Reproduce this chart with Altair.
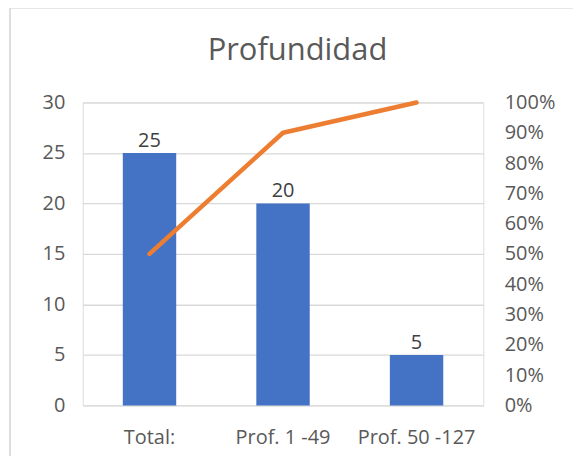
import altair as alt
import pandas as pd

title_text = "Profundidad"
categories = ["Total:", "Prof. 1 -49", "Prof. 50 -127"]
counts = [25, 20, 5]
cumulative_pct = [0.5, 0.9, 1.0]

df = pd.DataFrame({"cat": categories, "count": counts, "pct": cumulative_pct})
tdf = pd.DataFrame({"t": [title_text]})

FONT = "Open Sans"
GRAY = "#595959"
FS = 20

x_enc = alt.X(
    "cat:N",
    sort=categories,
    title=None,
    scale=alt.Scale(paddingInner=0.6, paddingOuter=0.3),
    axis=alt.Axis(labelAngle=0, ticks=False, domain=False, labelFontSize=FS,
                  labelColor=GRAY, labelFont=FONT, labelPadding=22, grid=False),
)

bars = alt.Chart(df).mark_bar(color="#4472C4").encode(
    x=x_enc,
    y=alt.Y("count:Q", title=None,
            scale=alt.Scale(domain=[0, 30]),
            axis=alt.Axis(values=[0, 5, 10, 15, 20, 25, 30], ticks=False, domain=False,
                          labelFontSize=FS, labelColor=GRAY, labelFont=FONT,
                          labelPadding=18, grid=True, gridColor="#D9D9D9", gridWidth=1.3)),
)

labels = alt.Chart(df).mark_text(baseline="alphabetic", dy=-6, fontSize=FS, font=FONT,
                                 color="#404040").encode(
    x=alt.X("cat:N", sort=categories),
    y=alt.Y("count:Q"),
    text=alt.Text("count:Q"),
)

line = alt.Chart(df).mark_line(color="#ED7D31", strokeWidth=4.5, strokeCap="round",
                               strokeJoin="round").encode(
    x=alt.X("cat:N", sort=categories, bandPosition=0.5),
    y=alt.Y("pct:Q", title=None,
            scale=alt.Scale(domain=[0, 1]),
            axis=alt.Axis(orient="right", format="%", values=[i / 10 for i in range(11)],
                          ticks=False, domain=False, grid=False, labelFontSize=FS,
                          labelColor=GRAY, labelFont=FONT, labelPadding=21)),
)

border = alt.Chart(df).mark_rule(color="#D9D9D9", strokeWidth=1).encode(
    x=alt.value(-73), x2=alt.value(500), y=alt.value(-95)
) + alt.Chart(df).mark_rule(color="#D9D9D9", strokeWidth=1).encode(
    x=alt.value(-73), y=alt.value(-95), y2=alt.value(400)
)

title = alt.Chart(tdf).mark_text(fontSize=31, font=FONT, color=GRAY, align="center",
                                 baseline="alphabetic").encode(
    x=alt.value(215.5), y=alt.value(-43), text="t:N"
)

left = alt.layer(bars, labels)
chart = alt.layer(border, title, left, line).resolve_scale(y="independent").properties(
    width=402,
    height=304,
    autosize=alt.AutoSizeParams(type="none"),
    padding={"left": 75, "top": 94, "right": 90, "bottom": 50},
).configure_view(stroke="#D9D9D9", strokeWidth=1.3).configure(background="white")

chart.save("out.html", embed_options={"renderer": "svg", "actions": False})
